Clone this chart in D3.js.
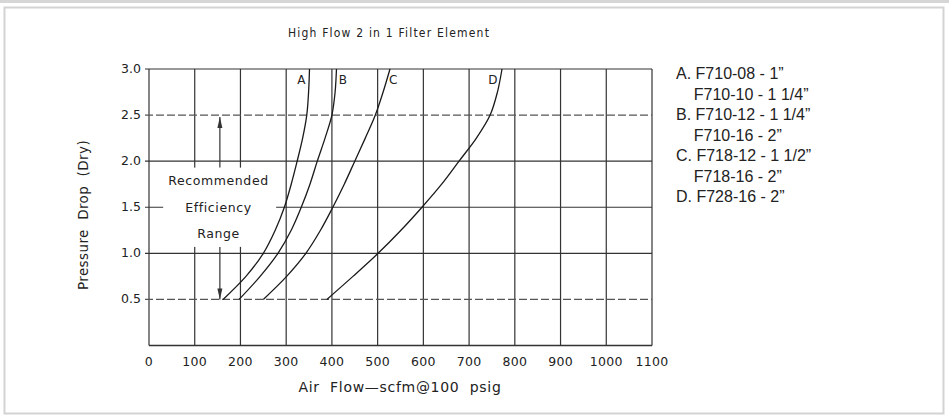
<!DOCTYPE html>
<html>
<head>
<meta charset="utf-8">
<script src="https://cdn.jsdelivr.net/npm/d3@7"></script>
<style>
  body { margin: 0; background: #fff; }
  svg text { fill: #222; }
</style>
</head>
<body>
<div id="chart"></div>
<script>

var width = 949,
    height = 420;

// pressure levels the curves were read at
var levels = [0.5, 0.75, 1.0, 1.25, 1.5, 1.75, 2.0, 2.25, 2.5, 2.75, 3.0];

// air flow (scfm) at each level, one array per curve
var flowA = [162, 212, 250, 276, 296, 311, 324, 336, 345, 349, 351];
var flowB = [197, 243, 282, 311, 333, 352, 368, 385, 400, 407, 410];
var flowC = [250, 301, 343, 375, 402, 427, 450, 473, 495, 512, 527];
var flowD = [389, 446, 501, 551, 597, 640, 678, 716, 746, 762, 772];

var curveNames = ["A", "B", "C", "D"];
var labelFlow = [333, 424, 534, 752];
var labelDrop = 2.88;

var xTicks = [0, 100, 200, 300, 400, 500, 600, 700, 800, 900, 1000, 1100];
var yTicks = [0.5, 1.0, 1.5, 2.0, 2.5, 3.0];
var dashedTicks = [0.5, 2.5];

var legendLines = [
    "A. F710-08 - 1\u201d",
    "    F710-10 - 1 1/4\u201d",
    "B. F710-12 - 1 1/4\u201d",
    "    F710-16 - 2\u201d",
    "C. F718-12 - 1 1/2\u201d",
    "    F718-16 - 2\u201d",
    "D. F728-16 - 2\u201d"
];

var rangeWords = ["Recommended", "Efficiency", "Range"];

var svg = d3.select("#chart")
    .append("svg")
    .attr("width", width)
    .attr("height", height);

// page frame
svg.append("rect")
    .attr("x", 0).attr("y", 0)
    .attr("width", width).attr("height", 3)
    .attr("fill", "#d6d6d6");
svg.append("rect")
    .attr("x", 4.5).attr("y", 7.5)
    .attr("width", 939).attr("height", 406)
    .attr("fill", "none")
    .attr("stroke", "#d3d3d3")
    .attr("stroke-width", 2);

var x = d3.scaleLinear().domain([0, 1100]).range([149, 652]);
var y = d3.scaleLinear().domain([0, 3]).range([345.5, 69]);

var plot = svg.append("g");
var ink = "#333";

// vertical grid lines
plot.selectAll(".vgrid")
    .data(xTicks)
    .enter()
    .append("line")
    .attr("x1", function (d) { return x(d); })
    .attr("x2", function (d) { return x(d); })
    .attr("y1", y(3))
    .attr("y2", y(0))
    .attr("stroke", ink)
    .attr("stroke-width", 1.2);

// horizontal grid lines, 0.5 and 2.5 dashed
plot.selectAll(".hgrid")
    .data(yTicks)
    .enter()
    .append("line")
    .attr("x1", x(0) - 4)
    .attr("x2", x(1100))
    .attr("y1", function (d) { return y(d); })
    .attr("y2", function (d) { return y(d); })
    .attr("stroke", function (d) { return dashedTicks.indexOf(d) >= 0 ? "#555" : ink; })
    .attr("stroke-width", 1.1)
    .attr("stroke-dasharray", function (d) { return dashedTicks.indexOf(d) >= 0 ? "8,3" : null; });

// bottom border
plot.append("line")
    .attr("x1", x(0)).attr("x2", x(1100))
    .attr("y1", y(0)).attr("y2", y(0))
    .attr("stroke", ink)
    .attr("stroke-width", 1.3);

// white patch behind the "recommended range" words
plot.append("rect")
    .attr("x", x(31))
    .attr("y", y(1.93))
    .attr("width", x(278) - x(31))
    .attr("height", y(1.07) - y(1.93))
    .attr("fill", "#fff");

plot.selectAll(".rangeword")
    .data(rangeWords)
    .enter()
    .append("text")
    .attr("x", x(152))
    .attr("y", function (d, i) { return y(1.78 - i * 0.29); })
    .attr("text-anchor", "middle")
    .attr("dominant-baseline", "middle")
    .style("font-family", "DejaVu Sans")
    .style("font-size", "12.5px")
    .style("letter-spacing", "0.6px")
    .text(function (d) { return d; });

// arrows
function arrow(from, to) {
    var ax = x(155);
    plot.append("line")
        .attr("x1", ax).attr("x2", ax)
        .attr("y1", y(from)).attr("y2", y(to))
        .attr("stroke", ink)
        .attr("stroke-width", 1.2);
    var dir = to > from ? 1 : -1;
    var tip = y(to);
    plot.append("path")
        .attr("d", "M" + ax + "," + tip +
            "L" + (ax - 2.5) + "," + (tip + dir * 11) +
            "L" + (ax + 2.5) + "," + (tip + dir * 11) + "Z")
        .attr("fill", ink);
}
arrow(1.93, 2.48);
arrow(1.07, 0.5);

// flow curves
var line = d3.line()
    .x(function (d) { return x(d[0]); })
    .y(function (d) { return y(d[1]); })
    .curve(d3.curveCatmullRom.alpha(0.5));

var series = [flowA, flowB, flowC, flowD];

plot.selectAll(".flow")
    .data(series)
    .enter()
    .append("path")
    .attr("d", function (s) {
        return line(s.map(function (v, i) { return [v, levels[i]]; }));
    })
    .attr("fill", "none")
    .attr("stroke", "#1a1a1a")
    .attr("stroke-width", 1.3);

plot.selectAll(".curvelabel")
    .data(curveNames)
    .enter()
    .append("text")
    .attr("x", function (d, i) { return x(labelFlow[i]); })
    .attr("y", y(labelDrop))
    .attr("text-anchor", "middle")
    .attr("dominant-baseline", "middle")
    .style("font-family", "DejaVu Sans")
    .style("font-size", "12px")
    .text(function (d) { return d; });

// tick labels
plot.selectAll(".xlabel")
    .data(xTicks)
    .enter()
    .append("text")
    .attr("x", function (d) { return x(d); })
    .attr("y", 362)
    .attr("text-anchor", "middle")
    .attr("dominant-baseline", "middle")
    .style("font-family", "DejaVu Sans")
    .style("font-size", "12.5px")
    .style("letter-spacing", "0.3px")
    .text(function (d) { return d; });

plot.selectAll(".ylabel")
    .data(yTicks)
    .enter()
    .append("text")
    .attr("x", 141)
    .attr("y", function (d) { return y(d); })
    .attr("text-anchor", "end")
    .attr("dominant-baseline", "middle")
    .style("font-family", "DejaVu Sans")
    .style("font-size", "12.5px")
    .text(function (d) { return d3.format(".1f")(d); });

// axis titles
svg.append("text")
    .attr("x", 400)
    .attr("y", 388)
    .attr("text-anchor", "middle")
    .attr("dominant-baseline", "middle")
    .style("font-family", "DejaVu Sans")
    .style("font-size", "14px")
    .style("letter-spacing", "0.7px")
    .attr("xml:space", "preserve")
    .text("Air  Flow\u2014scfm@100  psig");

svg.append("text")
    .attr("transform", "translate(84,215) rotate(-90)")
    .attr("text-anchor", "middle")
    .attr("dominant-baseline", "middle")
    .style("font-family", "DejaVu Sans")
    .style("font-size", "13.5px")
    .style("letter-spacing", "0.4px")
    .attr("xml:space", "preserve")
    .text("Pressure  Drop  (Dry)");

// chart title
svg.append("text")
    .attr("x", 389)
    .attr("y", 33)
    .attr("text-anchor", "middle")
    .attr("dominant-baseline", "middle")
    .style("font-family", "'DejaVu Sans Condensed', 'DejaVu Sans', sans-serif")
    .style("font-size", "12px")
    .style("font-weight", "300")
    .style("letter-spacing", "1.2px")
    .attr("xml:space", "preserve")
    .text("High Flow 2 in 1 Filter Element");

// legend
svg.selectAll(".legend")
    .data(legendLines)
    .enter()
    .append("text")
    .attr("x", 676)
    .attr("y", function (d, i) { return 75 + i * 20.5; })
    .attr("dominant-baseline", "middle")
    .attr("xml:space", "preserve")
    .style("font-family", "Liberation Sans")
    .style("font-size", "16px")
    .text(function (d) { return d; });

</script>
</body>
</html>
